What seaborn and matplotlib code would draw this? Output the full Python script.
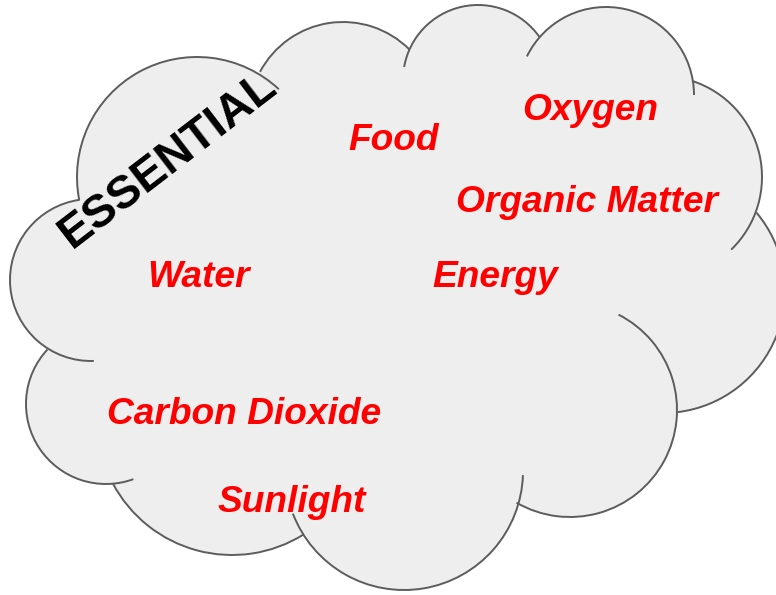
import matplotlib.pyplot as plt
from matplotlib.patches import Arc, Circle, Polygon
import numpy as np
import seaborn as sns


# words in the cloud
WORDS = ["Food", "Oxygen", "Organic Matter", "Water", "Energy",
         "Carbon Dioxide", "Sunlight"]
HEADING = "ESSENTIAL"

# layout of the words (pixels, y pointing down)
WORD_X = [348, 522, 456, 147, 432, 107, 218]
WORD_Y = [150, 120, 212, 287, 287, 424, 512]

# cloud lobes: centre, radius and the visible part of each rim (degrees)
LOBE_X = [197, 343, 478, 606, 661, 663, 570, 404, 232, 106, 91]
LOBE_Y = [177, 116, 80, 95, 177, 291, 410, 471, 420, 404, 280]
LOBE_R = [120, 94, 75, 88, 101, 122, 107, 119, 135, 80, 81]
ARC_FROM = [169, 208, 190, 206, 288, 320, 297, 2, 58, 70, 88]
ARC_TO = [313, 315, 325, 360, 46, 83, 120, 159, 152, 223, 262]

FILL = "#eeeeee"
EDGE = "#5c5c5c"


def draw_cloud(ax):
    # body: polygon through the lobe centres plus the lobes themselves
    ax.add_patch(Polygon(np.column_stack([LOBE_X, LOBE_Y]), closed=True,
                         facecolor=FILL, edgecolor="none", zorder=1))
    for x, y, r in zip(LOBE_X, LOBE_Y, LOBE_R):
        ax.add_patch(Circle((x, y), r, facecolor=FILL, edgecolor="none", zorder=1))
    # rim
    for x, y, r, t1, t2 in zip(LOBE_X, LOBE_Y, LOBE_R, ARC_FROM, ARC_TO):
        ax.add_patch(Arc((x, y), 2 * r, 2 * r, theta1=t1, theta2=t2,
                         color=EDGE, lw=1.4, zorder=2))


sns.set_theme(style="white")
plt.rcParams["font.family"] = ["Liberation Sans", "DejaVu Sans"]

fig = plt.figure(figsize=(7.76, 5.95), dpi=100)
ax = fig.add_axes([0, 0, 1, 1])
ax.set_xlim(0, 776)
ax.set_ylim(595, 0)
ax.axis("off")

draw_cloud(ax)

for word, x, y in zip(WORDS, WORD_X, WORD_Y):
    ax.text(x, y, word, ha="left", va="baseline", color="#ff0000",
            fontsize=26.7, fontweight="bold", fontstyle="italic", zorder=3)

ax.text(72, 249, HEADING, ha="left", va="baseline", rotation=37.5,
        rotation_mode="anchor", color="black", fontsize=33.5,
        fontweight="bold", zorder=3)

sns.despine(left=True, bottom=True)
fig.savefig("out.png", dpi=100)
